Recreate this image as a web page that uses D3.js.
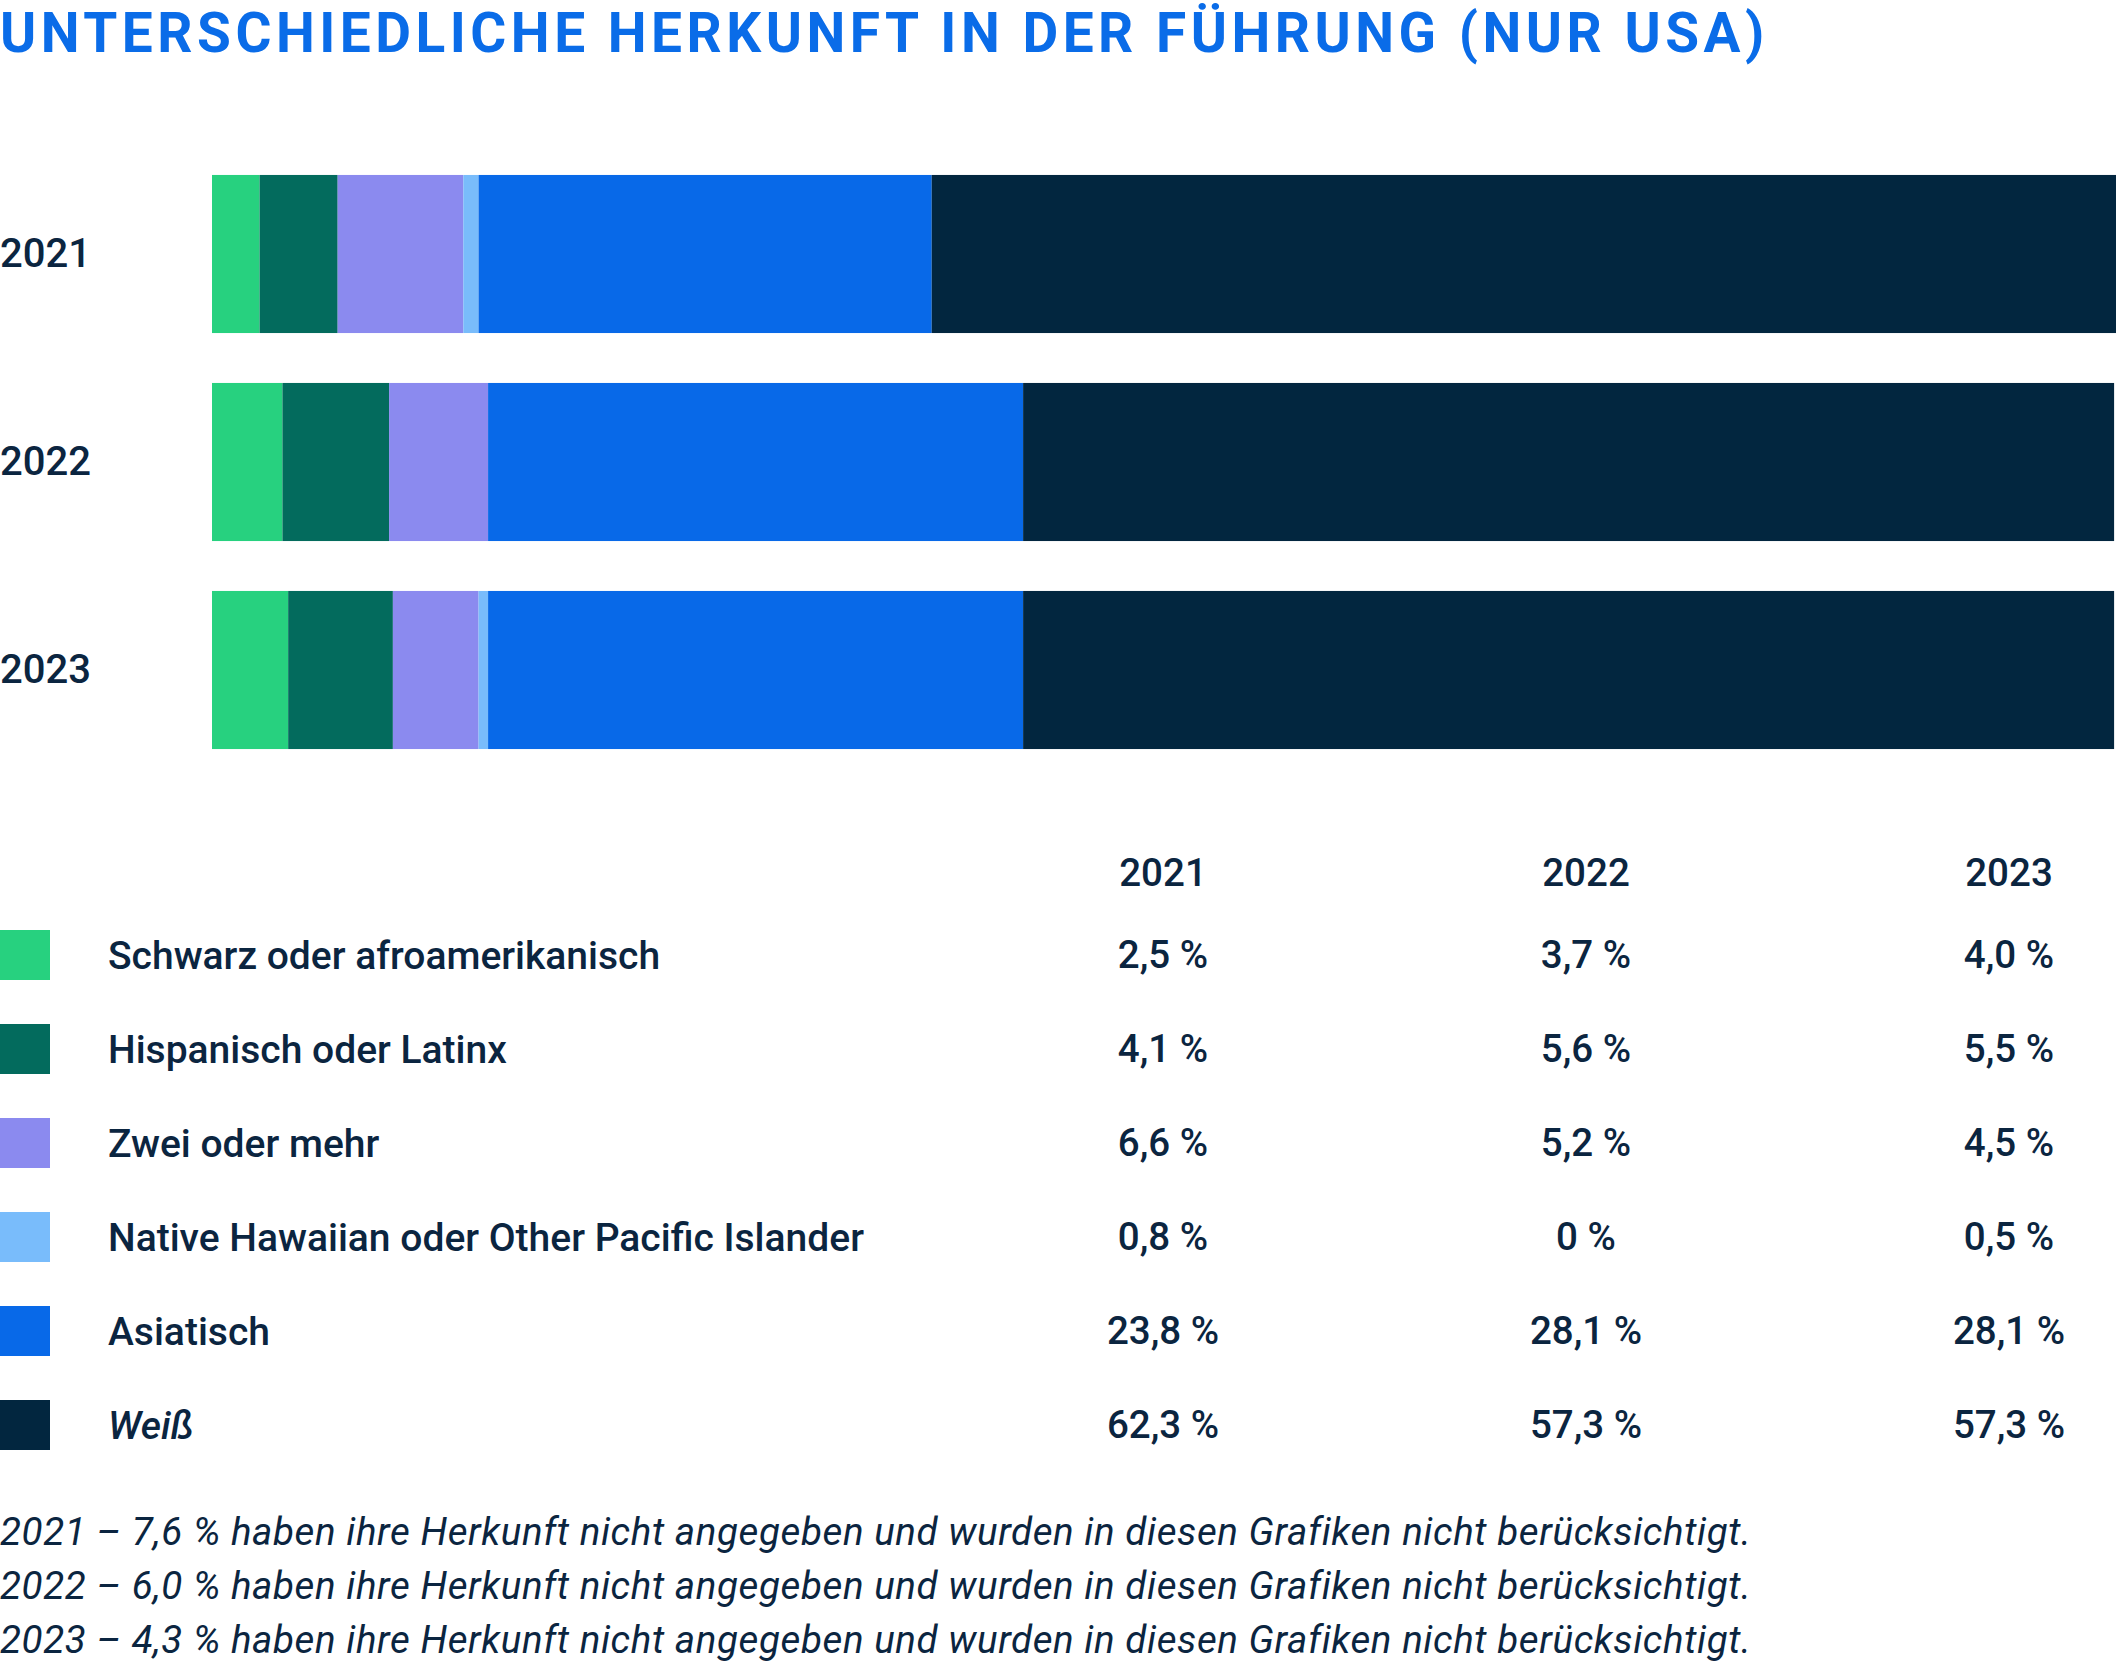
<!DOCTYPE html>
<html><head><meta charset="utf-8">
<script src="https://cdn.jsdelivr.net/npm/d3@7"></script>
<style>
html,body{margin:0;padding:0;background:#fff;}
svg{display:block;font-family:Roboto, "Noto Sans", sans-serif;}
</style></head>
<body><svg id="c" width="2116" height="1664"></svg>
<script>
const title = "UNTERSCHIEDLICHE HERKUNFT IN DER FÜHRUNG (NUR USA)";
const years = ["2021", "2022", "2023"];
const categories = ["Schwarz oder afroamerikanisch", "Hispanisch oder Latinx", "Zwei oder mehr", "Native Hawaiian oder Other Pacific Islander", "Asiatisch", "Weiß"];
const colors = ["#27D17F", "#036B5D", "#8B8AEF", "#79BCFB", "#0869E8", "#02263F"];
const values2021 = [2.5, 4.1, 6.6, 0.8, 23.8, 62.3];
const values2022 = [3.7, 5.6, 5.2, 0, 28.1, 57.3];
const values2023 = [4.0, 5.5, 4.5, 0.5, 28.1, 57.3];
const footnotes = [
  "2021 – 7,6 % haben ihre Herkunft nicht angegeben und wurden in diesen Grafiken nicht berücksichtigt.",
  "2022 – 6,0 % haben ihre Herkunft nicht angegeben und wurden in diesen Grafiken nicht berücksichtigt.",
  "2023 – 4,3 % haben ihre Herkunft nicht angegeben und wurden in diesen Grafiken nicht berücksichtigt."
];

const series = [values2021, values2022, values2023];
const rows = years.map((y, i) => {
  const o = {year: y};
  categories.forEach((c, j) => o[c] = series[i][j]);
  return o;
});
const fmt = v => (v === 0 ? "0" : d3.format(".1f")(v).replace(".", ",")) + " %";

const svg = d3.select("#c");
const textColor = "#0B2540";

// Title
svg.append("text").attr("x", 0).attr("y", 52)
  .attr("fill", "#0A6CE8").attr("font-size", 55).attr("font-weight", 700)
  .attr("letter-spacing", 4.5)
  .text(title);

// Bars
const x = d3.scaleLinear().domain([0, 100]).range([212, 2116]);
const y = d3.scaleBand().domain(years).range([150, 774]).paddingInner(0.24).paddingOuter(0.12);
const color = d3.scaleOrdinal().domain(categories).range(colors);
const stack = d3.stack().keys(categories)(rows);

svg.append("g").selectAll("g").data(stack).join("g")
  .attr("fill", d => color(d.key))
  .selectAll("rect").data(d => d).join("rect")
  .attr("x", d => x(d[0]))
  .attr("width", d => Math.max(0, x(d[1]) - x(d[0])))
  .attr("y", d => y(d.data.year))
  .attr("height", y.bandwidth());

const yAxis = svg.append("g").call(d3.axisLeft(y).tickSize(0).tickPadding(0));
yAxis.select(".domain").remove();
yAxis.selectAll("text").attr("x", 0).attr("text-anchor", "start")
  .attr("font-size", 40).attr("font-weight", 500).attr("fill", textColor)
  .attr("font-family", "Roboto").attr("dy", "0.32em");

// Table legend
const col = d3.scalePoint().domain(years).range([1163, 2009]);
const row = d3.scalePoint().domain(categories).range([955, 1425]);

svg.append("g").selectAll("text").data(years).join("text")
  .attr("x", d => col(d)).attr("y", 873).attr("dy", "0.35em")
  .attr("text-anchor", "middle").attr("font-size", 38.5).attr("font-weight", 500)
  .attr("fill", textColor).text(d => d);

const rg = svg.append("g").selectAll("g").data(categories).join("g")
  .attr("transform", d => `translate(0,${row(d)})`);
rg.append("rect").attr("x", 0).attr("y", -25).attr("width", 50).attr("height", 50)
  .attr("fill", d => color(d));
rg.append("text").attr("x", 108).attr("dy", "0.35em")
  .attr("font-size", 39).attr("font-weight", 500).attr("fill", textColor)
  .attr("font-style", d => d === "Weiß" ? "italic" : "normal")
  .text(d => d);
rg.each(function(c, j) {
  d3.select(this).selectAll("text.v").data(years).join("text").attr("class", "v")
    .attr("x", yr => col(yr)).attr("dy", "0.35em").attr("text-anchor", "middle")
    .attr("font-size", 38.5).attr("font-weight", 500).attr("fill", textColor)
    .text((yr, i) => fmt(series[i][j]));
});

// Footnotes
svg.append("g").selectAll("text").data(footnotes).join("text")
  .attr("x", 0).attr("y", (d, i) => 1545 + i * 54)
  .attr("font-size", 38.5).attr("letter-spacing", 0.6).attr("font-style", "italic").attr("fill", textColor)
  .text(d => d);
</script></body></html>
